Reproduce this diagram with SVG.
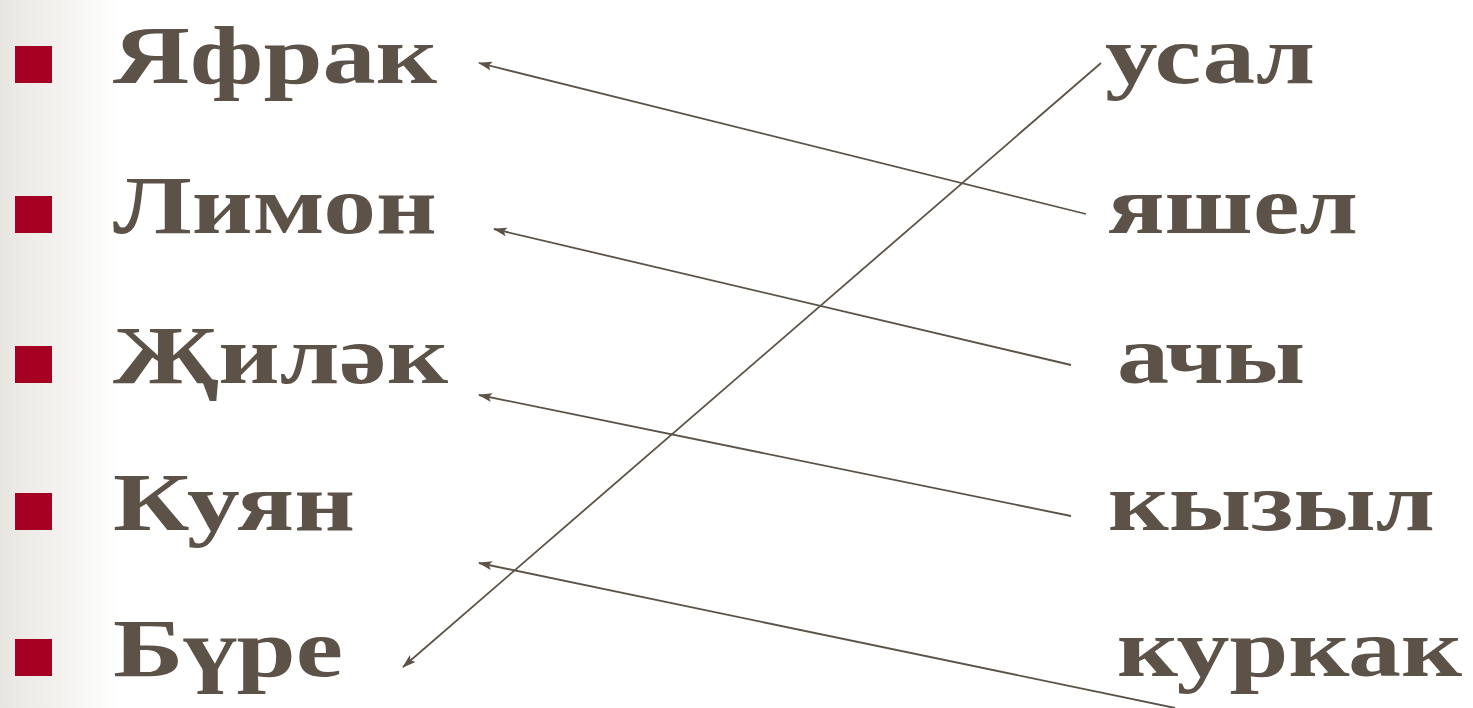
<svg xmlns="http://www.w3.org/2000/svg" width="1473" height="708" viewBox="0 0 1473 708">
<defs>
<linearGradient id="bg" x1="0" y1="0" x2="1" y2="0">
<stop offset="0" stop-color="#E8E6E1"/>
<stop offset="0.5" stop-color="#F3F2EF"/>
<stop offset="1" stop-color="#FFFFFF"/>
</linearGradient>
<marker id="ah" viewBox="0 0 14 9" refX="13" refY="4.5" markerWidth="14" markerHeight="9" markerUnits="userSpaceOnUse" orient="auto">
<path d="M0,0 L14,4.5 L0,9 L3,4.5 Z" fill="#5C5248"/>
</marker>
<style>
.w{font-family:"Liberation Serif","Times New Roman",serif;font-weight:bold;font-size:82px;fill:#5C5248}
.b{fill:#A50021}
.c{stroke:#5C5248;stroke-width:1.8;fill:none;marker-end:url(#ah)}
</style>
</defs>
<rect x="0" y="0" width="1473" height="708" fill="#FFFFFF"/>
<rect x="0" y="0" width="120" height="708" fill="url(#bg)"/>
<g id="left-1"><rect class="b" x="15" y="46" width="37" height="37"/><text class="w" x="113" y="83" textLength="324" lengthAdjust="spacingAndGlyphs">Яфрак</text></g>
<g id="left-2"><rect class="b" x="15" y="196" width="37" height="37"/><text class="w" x="113" y="233" textLength="324" lengthAdjust="spacingAndGlyphs">Лимон</text></g>
<g id="left-3"><rect class="b" x="15" y="346" width="37" height="37"/><text class="w" x="113" y="383" textLength="335" lengthAdjust="spacingAndGlyphs">Җиләк</text></g>
<g id="left-4"><rect class="b" x="15" y="493" width="37" height="37"/><text class="w" x="113" y="530" textLength="242" lengthAdjust="spacingAndGlyphs">Куян</text></g>
<g id="left-5"><rect class="b" x="15" y="639" width="37" height="37"/><text class="w" x="113" y="676" textLength="230" lengthAdjust="spacingAndGlyphs">Бүре</text></g>
<g id="right-1"><text class="w" x="1105" y="83" textLength="210" lengthAdjust="spacingAndGlyphs">усал</text></g>
<g id="right-2"><text class="w" x="1108" y="233" textLength="250" lengthAdjust="spacingAndGlyphs">яшел</text></g>
<g id="right-3"><text class="w" x="1117" y="383" textLength="188" lengthAdjust="spacingAndGlyphs">ачы</text></g>
<g id="right-4"><text class="w" x="1108" y="530" textLength="327" lengthAdjust="spacingAndGlyphs">кызыл</text></g>
<g id="right-5"><text class="w" x="1117" y="676" textLength="345" lengthAdjust="spacingAndGlyphs">куркак</text></g>
<g id="connectors">
<line class="c" x1="1086" y1="214" x2="479" y2="63"/>
<line class="c" x1="1071" y1="365" x2="494" y2="229"/>
<line class="c" x1="1071" y1="516" x2="479" y2="395"/>
<line class="c" x1="1175" y1="708" x2="479" y2="563"/>
<line class="c" x1="1101" y1="63" x2="403" y2="667"/>
</g>
</svg>
